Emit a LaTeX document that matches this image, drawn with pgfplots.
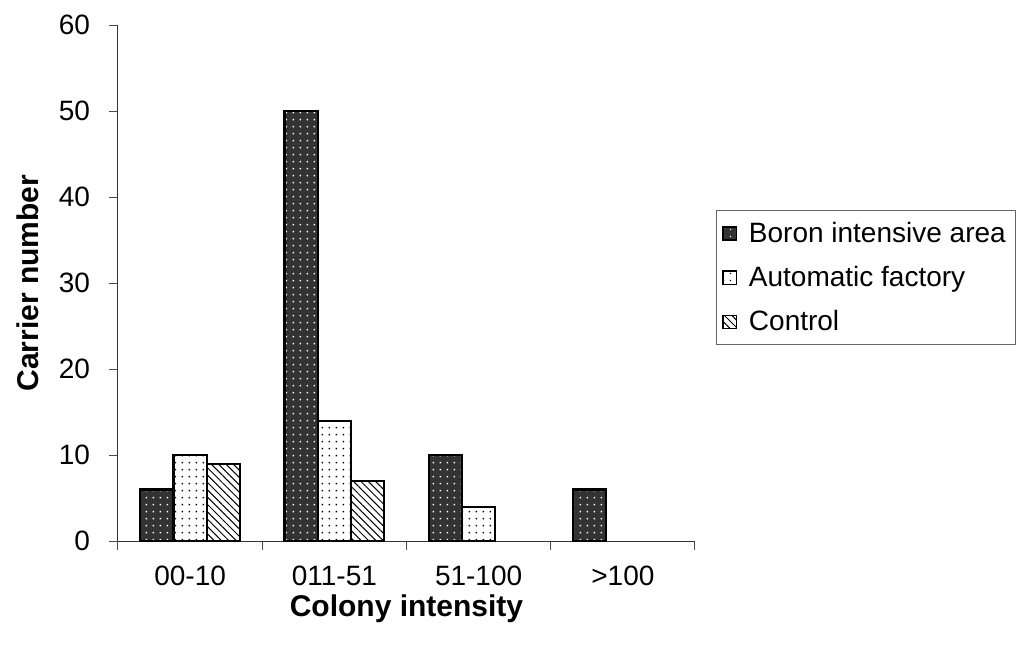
\documentclass[border=0pt]{standalone}
\usepackage{pgfplots}
\pgfplotsset{compat=1.18}
\usepackage{fontspec}
\setmainfont{Liberation Sans}
\usetikzlibrary{patterns,patterns.meta}

\definecolor{barDark}{HTML}{333333}

\tikzdeclarepattern{
  name=sparsedots,
  type=uncolored,
  bounding box={(0,0) and (3.6pt,3.6pt)},
  tile size={(3.6pt,3.6pt)},
  code={\fill (1.5pt,1.5pt) rectangle ++(0.75pt,0.75pt);}
}

% zero-height bars are left out
\pgfplotstableread{
x y
0 6
1 50
2 10
3 6
}\boron
\pgfplotstableread{
x y
0 10
1 14
2 4
}\automatic
\pgfplotstableread{
x y
0 9
1 7
}\control

\newcommand{\fs}{\fontsize{14}{16}\selectfont}
\newcommand{\fl}{\fontsize{15}{18}\selectfont\bfseries}

\begin{document}
\begin{tikzpicture}
\useasboundingbox (0,0) rectangle (510.5pt,325pt);
\begin{axis}[
  at={(59pt,54.5pt)}, anchor=south west,
  scale only axis,
  width=288.5pt, height=258pt,
  ybar=0pt,
  bar width=16.6pt,
  xmin=-0.5, xmax=3.5,
  ymin=0, ymax=60,
  axis x line*=bottom,
  axis y line*=left,
  axis line style={line width=0.5pt, black!80},
  tick style={line width=0.5pt, black!70},
  tick align=outside,
  major tick length=4.5pt,
  ytick={0,10,...,60},
  xtick={-0.5,0.5,1.5,2.5,3.5},
  xticklabels={},
  extra x ticks={0,1,2,3},
  extra x tick labels={00-10,011-51,51-100,>100},
  extra x tick style={major tick length=0pt,
    xticklabel style={yshift=-9pt}},
  /pgf/number format/assume math mode=true,
  tick label style={font=\fs},
  yticklabel style={xshift=-6pt},
  xlabel={Colony intensity},
  ylabel={Carrier number},
  label style={font=\fl},
  xlabel style={at={(axis description cs:0.5,-0.132)}, anchor=center},
  ylabel style={at={(axis description cs:-0.156,0.5)}, anchor=center},
  legend style={at={(axis description cs:1.036,0.641)}, anchor=north west,
    draw=black!60, line width=0.6pt, font=\fs, row sep=6.5pt,
    inner xsep=3pt, inner ysep=3.5pt},
  legend cell align=left,
  legend image code/.code={\draw[#1, line width=0.7pt] (0pt,-3.3pt) rectangle (6.6pt,3.3pt);},
]
\addplot[bar shift=-16.6pt, draw=black, line width=1.1pt, fill=barDark,
  postaction={pattern=sparsedots, pattern color=white}]
  table[x=x,y=y]{\boron};
\addlegendentry{\hspace{4pt}Boron intensive area}
\addplot[bar shift=0pt, draw=black, line width=1.1pt, fill=white,
  postaction={pattern=sparsedots, pattern color=black}]
  table[x=x,y=y]{\automatic};
\addlegendentry{\hspace{4pt}Automatic factory}
\addplot[bar shift=16.6pt, draw=black, line width=1.1pt, fill=white,
  postaction={pattern={Lines[angle=-45,distance=2.6pt,line width=0.5pt]}, pattern color=black}]
  table[x=x,y=y]{\control};
\addlegendentry{\hspace{4pt}Control}
\end{axis}
\end{tikzpicture}
\end{document}
